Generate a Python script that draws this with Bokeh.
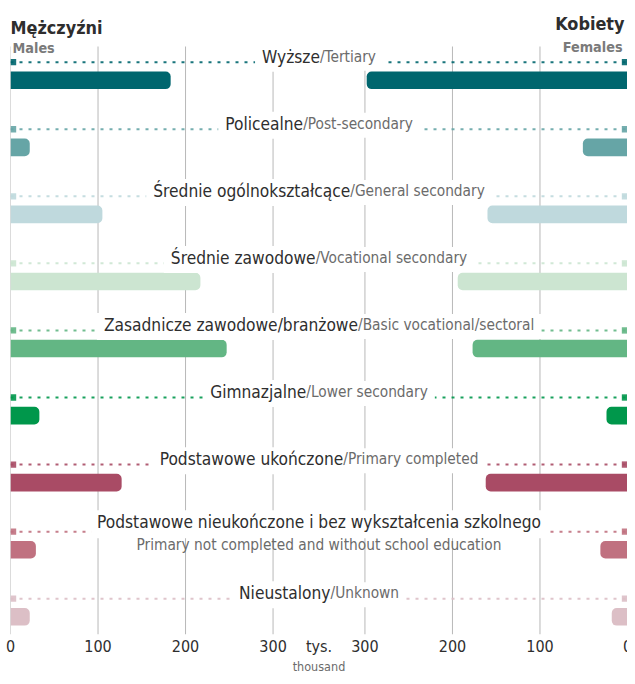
import glob
import os

from bokeh.plotting import figure
from bokeh.models import ColumnDataSource, Range1d, FixedTicker, Label
from bokeh.core.properties import value
from bokeh.embed import file_html
from bokeh.resources import INLINE

# ---------------- data ----------------
categories_pl = [
    "Wyższe",
    "Policealne",
    "Średnie ogólnokształcące",
    "Średnie zawodowe",
    "Zasadnicze zawodowe/branżowe",
    "Gimnazjalne",
    "Podstawowe ukończone",
    "Podstawowe nieukończone i bez wykształcenia szkolnego",
    "Nieustalony",
]
categories_en = [
    "Tertiary",
    "Post-secondary",
    "General secondary",
    "Vocational secondary",
    "Basic vocational/sectoral",
    "Lower secondary",
    "Primary completed",
    "Primary not completed and without school education",
    "Unknown",
]
males = [183, 22, 105, 217, 247, 33, 127, 29, 22]       # tys. / thousand
females = [298, 51, 160, 194, 177, 24, 162, 31, 18]     # tys. / thousand
tick_values = [0, 100, 200, 300]
two_line = [False, False, False, False, False, False, False, True, False]

# ---------------- style / layout ----------------
colors = ["#00666e", "#66a5a6", "#bfd9dd", "#cce5d1", "#63b684",
          "#00974b", "#a94b65", "#c07180", "#dcbfc6"]
PL_COLOR = "#2e2e2e"
EN_COLOR = "#6b6b6b"
SUB_COLOR = "#7a7a7a"
GRID_COLOR = "#b8b8b8"

W, H = 627, 676
FX, FY = W / 635.0, H / 684.0     # reference px -> figure px
X_MAX = 705
FRAME_LEFT = 10
FRAME_W = W - FRAME_LEFT
SX = FRAME_W / X_MAX              # px per thousand
BOTTOM_BORDER = 36
FRAME_H = H - BOTTOM_BORDER
BAR0 = 81.5 * FY                  # figure px of first row centre
ROW_PX = 68.5 * FY                # figure px per row
Y_TOP = -BAR0 / ROW_PX
Y_BOTTOM = (FRAME_H - BAR0) / ROW_PX
LEAD = 6.5                        # little square at start of leader line


def py(ref_px):
    """reference pixel (y) -> row units"""
    return (ref_px * FY - BAR0) / ROW_PX


def oy(ref_px):
    """reference pixel offset -> row units"""
    return ref_px * FY / ROW_PX


def px_x(ref_px):
    """reference pixel (x) -> male data units"""
    return (ref_px * FX - FRAME_LEFT) / SX


# ---------------- fonts ----------------
FONT_DIRS = ["/usr/share/fonts", "/usr/local/share/fonts",
             os.path.expanduser("~/.fonts"), os.path.expanduser("~/.local/share/fonts")]


def find_font(fname):
    for d in FONT_DIRS:
        hits = glob.glob(os.path.join(d, "**", fname), recursive=True)
        if hits:
            return hits[0]
    return None


CANDIDATES = [
    ("Liberation Sans Narrow", "LiberationSansNarrow-Regular.ttf", "LiberationSansNarrow-Bold.ttf"),
    ("DejaVu Sans Condensed", "DejaVuSansCondensed.ttf", "DejaVuSansCondensed-Bold.ttf"),
    ("Liberation Sans", "LiberationSans-Regular.ttf", "LiberationSans-Bold.ttf"),
    ("DejaVu Sans", "DejaVuSans.ttf", "DejaVuSans-Bold.ttf"),
]
FAMILY, REG, BOLD = "Liberation Sans Narrow", None, None
for fam, r, b in CANDIDATES:
    rp = find_font(r)
    if rp:
        FAMILY, REG, BOLD = fam, rp, (find_font(b) or rp)
        break

try:
    from PIL import ImageFont
    _reg100 = ImageFont.truetype(REG, 100) if REG else None
    _bold100 = ImageFont.truetype(BOLD, 100) if BOLD else None
except Exception:
    _reg100 = _bold100 = None


def width_px(text, size, bold=False):
    f = _bold100 if bold else _reg100
    if f is None:
        return len(text) * 0.42 * size
    return f.getlength(text) * size / 100.0


def fit(text, target, default, bold=False, boost=1.0):
    w = width_px(text, 100, bold)
    if w <= 0:
        return default
    return round(boost * target * FX * 100.0 / w, 1)


S_PL = min(21.0, fit(categories_pl[7], 420, 20, boost=1.07))
S_EN = min(19.0, fit(categories_en[7], 346, 18, boost=1.07))
S_TITLE = min(22.0, fit("Mężczyźni", 85, 21, bold=True, boost=1.1))
S_SUB = min(19.0, fit("Females", 59, 18, bold=True, boost=1.03))
S_TICK = 16
S_THOUSAND = 12.5

# ---------------- figure ----------------
p = figure(width=W, height=H, output_backend="svg", toolbar_location=None,
           x_range=Range1d(0, X_MAX), y_range=Range1d(Y_BOTTOM, Y_TOP),
           y_axis_location=None, min_border_left=FRAME_LEFT, min_border_right=0,
           min_border_top=0, min_border_bottom=BOTTOM_BORDER,
           outline_line_color=None,
           background_fill_color="white", border_fill_color="white")
p.extra_x_ranges = {"f": Range1d(X_MAX, 0)}

center = X_MAX / 2.0
female_ticks = [X_MAX - t for t in tick_values]
overrides = {ft: str(t) for ft, t in zip(female_ticks, tick_values)}
overrides[center] = "tys."
p.xaxis.ticker = FixedTicker(ticks=tick_values + female_ticks + [center])
p.xaxis.major_label_overrides = overrides
p.xaxis.axis_line_color = None
p.xaxis.major_tick_line_color = None
p.xaxis.minor_tick_line_color = None
p.xaxis.major_tick_out = 0
p.xaxis.major_tick_in = 0
p.xaxis.major_label_standoff = 2
p.xaxis.major_label_text_font = FAMILY
p.xaxis.major_label_text_font_size = f"{S_TICK}px"
p.xaxis.major_label_text_color = PL_COLOR
p.xaxis.axis_label = "thousand"
p.xaxis.axis_label_standoff = 0
p.xaxis.axis_label_text_font = FAMILY
p.xaxis.axis_label_text_font_style = "normal"
p.xaxis.axis_label_text_font_size = f"{S_THOUSAND}px"
p.xaxis.axis_label_text_color = EN_COLOR
p.xgrid.visible = False
p.ygrid.visible = False

# vertical grid lines (from the tick values, through the scales)
grid_top = py(47)
p.segment(x0=tick_values, x1=tick_values, y0=grid_top, y1=Y_BOTTOM,
          line_color=GRID_COLOR, line_width=1)
p.segment(x0=tick_values, x1=tick_values, y0=grid_top, y1=Y_BOTTOM,
          line_color=GRID_COLOR, line_width=1, x_range_name="f")

rows = list(range(len(categories_pl)))
src = ColumnDataSource(dict(
    y=rows,
    ydot=[r - oy(18.5) for r in rows],
    m=males,
    f=females,
    color=colors,
))

# leader dotted lines (behind labels)
p.segment(x0=0, x1=X_MAX, y0="ydot", y1="ydot", source=src, line_color="color",
          line_alpha=0.9, line_width=2, line_dash="3 6")
# small squares at the start of leaders
p.hbar(y="ydot", left=0, right=LEAD, height=oy(6.5), source=src,
       fill_color="color", fill_alpha=0.9, line_color=None)
p.hbar(y="ydot", left=0, right=LEAD, height=oy(6.5), source=src, x_range_name="f",
       fill_color="color", fill_alpha=0.9, line_color=None)

# bars
p.hbar(y="y", left=0, right="m", height=oy(18), source=src, fill_color="color",
       line_color=None,
       border_radius=dict(top_left=0, top_right=5, bottom_right=5, bottom_left=0))
p.hbar(y="y", left=0, right="f", height=oy(18), source=src, fill_color="color",
       line_color=None, x_range_name="f",
       border_radius=dict(top_left=5, top_right=0, bottom_right=0, bottom_left=5))

# category labels
one = [i for i in rows if not two_line[i]]
split = []
for i in one:
    wp = width_px(categories_pl[i], S_PL)
    we = width_px("/" + categories_en[i], S_EN)
    split.append(center + (wp - we) / 2.0 / SX)

lbl = ColumnDataSource(dict(
    x=split,
    y=[i - oy(22.5) for i in one],
    pl=[categories_pl[i] for i in one],
    en=["/" + categories_en[i] for i in one],
))
p.text(x="x", y="y", text="pl", source=lbl, text_align="right",
       text_baseline="alphabetic", text_color=PL_COLOR,
       text_font=value(FAMILY), text_font_size=value(f"{S_PL}px"),
       background_fill_color="white",
       padding=dict(left=7, right=0, top=2, bottom=5))
p.text(x="x", y="y", text="en", source=lbl, text_align="left",
       text_baseline="alphabetic", text_color=EN_COLOR,
       text_font=value(FAMILY), text_font_size=value(f"{S_EN}px"),
       background_fill_color="white",
       padding=dict(left=0, right=7, top=2, bottom=5))

two = [i for i in rows if two_line[i]]
lbl2 = ColumnDataSource(dict(
    x=[center] * len(two),
    y1=[i - oy(26) for i in two],
    y2=[i - oy(5) for i in two],
    pl=[categories_pl[i] for i in two],
    en=[categories_en[i] for i in two],
))
p.text(x="x", y="y1", text="pl", source=lbl2, text_align="center",
       text_baseline="alphabetic", text_color=PL_COLOR,
       text_font=value(FAMILY), text_font_size=value(f"{S_PL}px"),
       background_fill_color="white",
       padding=dict(left=6, right=6, top=2, bottom=6))
p.text(x="x", y="y2", text="en", source=lbl2, text_align="center",
       text_baseline="alphabetic", text_color=EN_COLOR,
       text_font=value(FAMILY), text_font_size=value(f"{S_EN}px"))

# titles
p.add_layout(Label(x=0, y=py(28), text="Mężczyźni", text_align="left",
                   text_baseline="alphabetic", text_font=FAMILY,
                   text_font_style="bold", text_font_size=f"{S_TITLE}px",
                   text_color=PL_COLOR))
p.add_layout(Label(x=0, y=py(49), text="Males", text_align="left",
                   text_baseline="alphabetic", text_font=FAMILY,
                   text_font_style="bold", text_font_size=f"{S_SUB}px",
                   text_color=SUB_COLOR, background_fill_color="white",
                   padding=2))
p.add_layout(Label(x=px_x(632), y=py(24), text="Kobiety", text_align="right",
                   text_baseline="alphabetic", text_font=FAMILY,
                   text_font_style="bold", text_font_size=f"{S_TITLE}px",
                   text_color=PL_COLOR))
p.add_layout(Label(x=px_x(632), y=py(48), text="Females", text_align="right",
                   text_baseline="alphabetic", text_font=FAMILY,
                   text_font_style="bold", text_font_size=f"{S_SUB}px",
                   text_color=SUB_COLOR, background_fill_color="white",
                   padding=2))

open("out.html", "w").write(file_html(p, INLINE))
